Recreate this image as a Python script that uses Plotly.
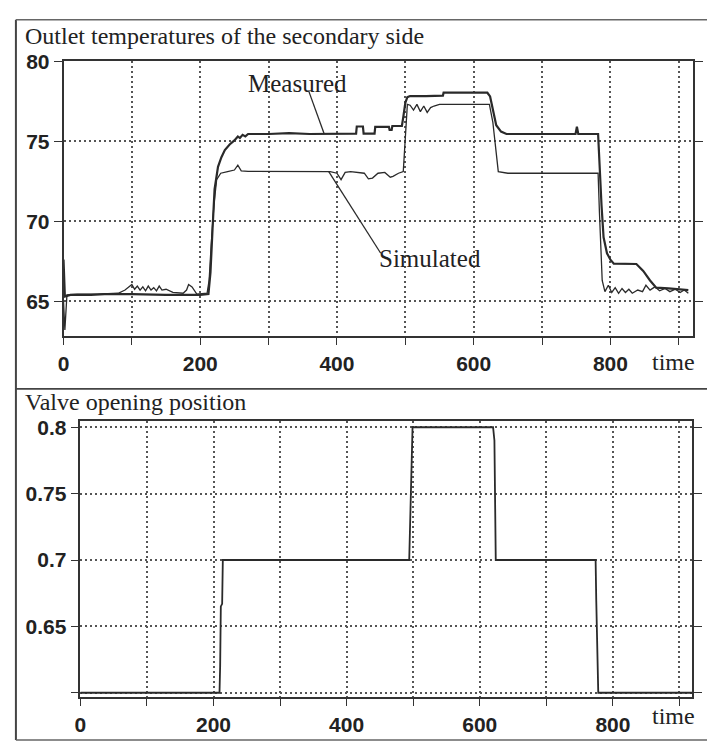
import plotly.graph_objects as go

# ---------------- data ----------------
meas_t = [0, 2, 10, 40, 60, 100, 150, 200, 212, 215, 218, 221, 226, 231, 236, 243, 250, 255, 258, 262, 266, 270,
          300, 330, 360, 400, 428, 429, 438, 439, 455, 456, 476, 477, 480, 481, 495, 497, 500, 503, 507,
          530, 555, 556, 620, 624, 628, 633, 640, 648, 700, 749, 751, 753, 782, 784, 787, 790, 795, 800, 805,
          838, 848, 858, 867, 885, 900, 914]
meas_v = [67.6, 65.3, 65.4, 65.4, 65.45, 65.45, 65.4, 65.4, 65.45, 66.8, 69.5, 72.0, 73.4, 74.0, 74.45, 74.8, 75.05, 75.3, 75.2, 75.4, 75.3, 75.45,
          75.45, 75.5, 75.45, 75.45, 75.47, 75.92, 75.92, 75.47, 75.47, 75.9, 75.9, 75.7, 75.7, 75.95, 75.95, 76.5, 77.4, 77.75, 77.82,
          77.82, 77.85, 78.03, 78.03, 77.8, 77.0, 76.0, 75.6, 75.45, 75.45, 75.45, 75.9, 75.45, 75.45, 73.5, 71.0, 69.0, 68.0, 67.6, 67.35,
          67.33, 66.9, 66.3, 65.85, 65.8, 65.75, 65.7]

sim_t = [0, 2, 5, 20, 50, 80, 90, 95, 100, 104, 108, 112, 116, 120, 124, 128, 132, 136, 140, 144, 150, 160, 175, 180,
         183, 188, 195, 210, 213, 216, 220, 224, 230, 240, 250, 255, 260, 270, 300, 350, 390, 400, 406, 412, 420, 440, 446,
         452, 460, 470, 478, 482, 490, 497, 500, 503, 507, 512, 517, 522, 527, 532, 537, 542, 550, 600, 623, 628, 632, 636,
         650, 700, 782, 784, 786, 788, 792, 797, 802, 807, 812, 817, 822, 827, 832, 840, 847, 852, 858, 865, 872, 880,
         887, 895, 902, 908, 914]
sim_v = [65.0, 63.2, 65.4, 65.45, 65.45, 65.5, 65.7, 65.9, 66.05, 65.75, 65.95, 65.7, 65.9, 65.65, 65.95, 65.7, 65.85, 65.65, 65.95, 65.7, 65.75, 65.55, 65.5, 65.7,
         66.05, 65.9, 65.45, 65.5, 66.3, 68.5, 71.0, 72.6, 73.0, 73.1, 73.2, 73.5, 73.15, 73.12, 73.12, 73.12, 73.1, 73.0, 72.6, 73.05, 73.1, 73.0, 72.65,
         72.7, 73.0, 73.05, 72.75, 72.8, 73.0, 73.1, 75.5, 77.3, 77.25, 76.95, 77.3, 76.85, 77.2, 76.8, 77.1, 77.2, 77.3, 77.3, 77.3, 76.2, 74.8, 73.1,
         73.0, 73.0, 73.0, 70.5, 68.0, 66.3, 65.6, 66.0, 65.55, 65.85, 65.5, 65.8, 65.55, 65.75, 65.5, 65.7, 65.6, 66.0, 65.7, 65.9, 65.65, 65.8,
         65.6, 65.75, 65.55, 65.7, 65.5]

valve_t = [0, 209, 210, 211, 213, 214, 494, 496, 499, 620, 621, 622, 624, 774, 775, 777, 778, 919]
valve_v = [0.6, 0.6, 0.62, 0.665, 0.667, 0.7, 0.7, 0.745, 0.8, 0.8, 0.79, 0.79, 0.7, 0.7, 0.669, 0.627, 0.6, 0.6]

x_ticks = [0, 100, 200, 300, 400, 500, 600, 700, 800, 900]
x_labels = ["0", "", "200", "", "400", "", "600", "", "800", ""]
y1_ticks = [65, 70, 75, 80]
y1_labels = ["65", "70", "75", "80"]
y2_ticks = [0.6, 0.65, 0.7, 0.75, 0.8]
y2_labels = ["", "0.65", "0.7", "0.75", "0.8"]

# ---------------- figure ----------------
W, H = 707, 742
def px(x):
    return x / W
def py(y):
    return 1 - y / H

LINE = "#2a2a2a"
GRID = "#555555"
tickfont = dict(family="Liberation Sans", size=21, color="#222", weight="bold")

fig = go.Figure()
fig.add_trace(go.Scatter(x=meas_t, y=meas_v, mode="lines", line=dict(color=LINE, width=2.2),
                         xaxis="x", yaxis="y", name="Measured", showlegend=False))
fig.add_trace(go.Scatter(x=sim_t, y=sim_v, mode="lines", line=dict(color=LINE, width=1.3),
                         xaxis="x", yaxis="y", name="Simulated", showlegend=False))
fig.add_trace(go.Scatter(x=valve_t, y=valve_v, mode="lines", line=dict(color=LINE, width=1.8),
                         xaxis="x2", yaxis="y2", name="Valve", showlegend=False))

axis_common = dict(showline=True, linecolor="#333", linewidth=1.5, showgrid=True, gridcolor=GRID,
                   gridwidth=1.5, griddash="2px,3px", ticks="outside", ticklen=8, tickwidth=1.3,
                   tickcolor="#333", zeroline=False, tickfont=tickfont)

fig.update_layout(
    width=W, height=H, margin=dict(l=0, r=0, t=0, b=0), autosize=False,
    paper_bgcolor="white", plot_bgcolor="white",
    xaxis=dict(domain=[px(58), px(693)], range=[0, 921], anchor="y", tickvals=x_ticks, ticktext=x_labels,
               mirror=True, **axis_common),
    yaxis=dict(domain=[py(329), py(50)], range=[62.85, 80], anchor="x", tickvals=y1_ticks, ticktext=y1_labels,
               mirror="ticks", **axis_common),
    xaxis2=dict(domain=[px(75), px(692)], range=[0, 919], anchor="y2", tickvals=x_ticks, ticktext=x_labels,
                mirror=True, **axis_common),
    yaxis2=dict(domain=[py(696), py(416)], range=[0.597, 0.8045], anchor="x2", tickvals=y2_ticks, ticktext=y2_labels,
                mirror="ticks", **axis_common),
)

serif = dict(family="Liberation Serif", size=25, color="#222")
title_serif = dict(family="Liberation Serif", size=24, color="#222")
small_serif = dict(family="Liberation Serif", size=24, color="#222")
ann = [
    dict(text="Outlet temperatures of the secondary side", x=px(17), y=py(24), xref="paper", yref="paper",
         xanchor="left", yanchor="middle", showarrow=False, font=title_serif),
    dict(text="Valve opening position", x=px(17), y=py(396), xref="paper", yref="paper",
         xanchor="left", yanchor="middle", showarrow=False, font=title_serif),
    dict(text="time", x=px(673), y=py(356), xref="paper", yref="paper",
         xanchor="center", yanchor="middle", showarrow=False, font=small_serif),
    dict(text="time", x=px(673), y=py(716), xref="paper", yref="paper",
         xanchor="center", yanchor="middle", showarrow=False, font=small_serif),
    dict(text="Measured", x=342, y=78.6, xref="x", yref="y", xanchor="center", yanchor="middle",
         showarrow=False, font=serif),
    dict(text="Simulated", x=536, y=67.7, xref="x", yref="y", xanchor="center", yanchor="middle",
         showarrow=False, font=serif),
]
fig.update_layout(annotations=ann)

shapes = [
    # pointer lines
    dict(type="line", xref="x", yref="y", x0=359, y0=78.1, x1=381, y1=75.5, line=dict(color=LINE, width=1.3)),
    dict(type="line", xref="x", yref="y", x0=388, y0=73.1, x1=464, y1=68.0, line=dict(color=LINE, width=1.3)),
    # outer panel frames
    dict(type="line", xref="paper", yref="paper", x0=px(10), x1=px(10), y0=py(8), y1=py(740), line=dict(color="#444", width=2)),
    dict(type="line", xref="paper", yref="paper", x0=px(10), x1=1, y0=py(8), y1=py(8), line=dict(color="#666", width=1.5)),
    dict(type="line", xref="paper", yref="paper", x0=px(10), x1=1, y0=py(383), y1=py(383), line=dict(color="#444", width=1.8)),
    dict(type="line", xref="paper", yref="paper", x0=px(10), x1=1, y0=py(740), y1=py(740), line=dict(color="#666", width=1.5)),
]
fig.update_layout(shapes=shapes)

fig.write_html("out.html")
